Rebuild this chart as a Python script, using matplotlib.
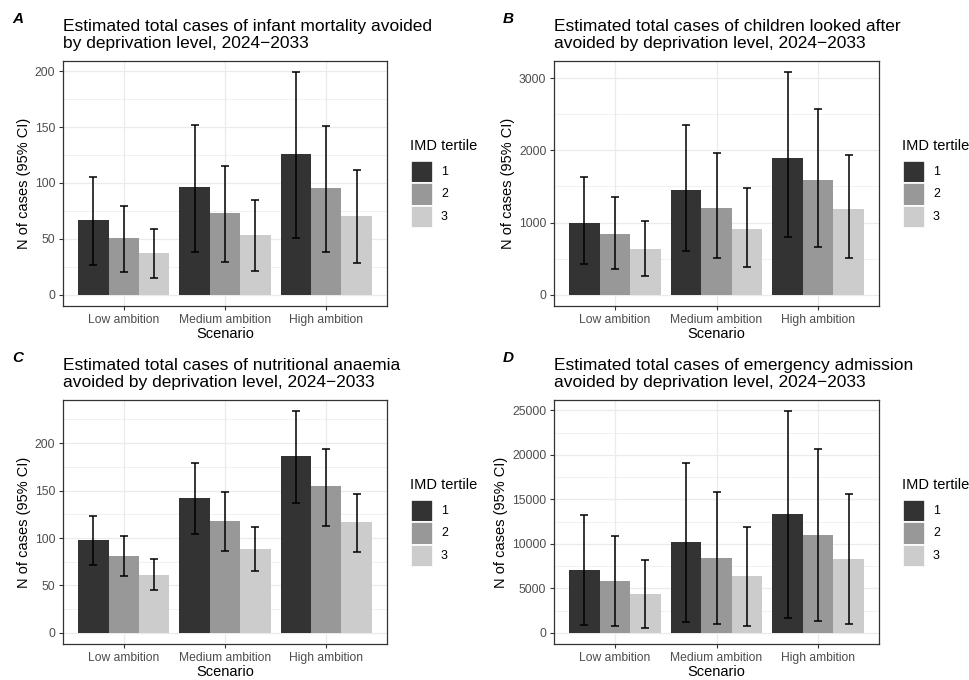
import numpy as np
import matplotlib.pyplot as plt
from matplotlib.patches import Rectangle
from matplotlib.ticker import MultipleLocator

plt.rcParams['font.family'] = ['Liberation Sans', 'DejaVu Sans']

scenarios = ['Low ambition', 'Medium ambition', 'High ambition']
tertiles = ['1', '2', '3']
fill_colours = ['#333333', '#989898', '#CCCCCC']

# wartości: [scenariusz][tercyl]
mortality = [[66.7, 50.7, 37.0], [96.3, 72.9, 53.9], [126.2, 95.7, 70.8]]
mortality_lo = [[26.7, 20.1, 15.1], [38.5, 29.3, 21.6], [50.7, 38.2, 28.1]]
mortality_hi = [[105.2, 79.7, 59.0], [152.0, 115.3, 85.0], [199.1, 150.8, 111.4]]

looked_after = [[1001, 836, 629], [1452, 1208, 914], [1897, 1585, 1190]]
looked_after_lo = [[427, 354, 266], [611, 515, 386], [804, 666, 505]]
looked_after_hi = [[1631, 1360, 1020], [2357, 1966, 1479], [3083, 2573, 1939]]

anaemia = [[98.3, 81.5, 61.3], [142.2, 118.1, 88.9], [186.0, 154.7, 116.7]]
anaemia_lo = [[72.1, 59.6, 44.9], [104.5, 86.4, 65.5], [136.6, 113.2, 85.4]]
anaemia_hi = [[123.7, 102.4, 77.4], [178.7, 148.1, 111.8], [233.8, 194.1, 146.0]]

emergency = [[7058, 5795, 4383], [10178, 8432, 6352], [13336, 11033, 8321]]
emergency_lo = [[892, 743, 557], [1226, 1040, 780], [1634, 1374, 1040]]
emergency_hi = [[13224, 10884, 8247], [19056, 15788, 11924], [24926, 20691, 15565]]

panels = [
    ('A', 'Estimated total cases of infant mortality avoided\nby deprivation level, 2024\u22122033',
     mortality, mortality_lo, mortality_hi, 50),
    ('B', 'Estimated total cases of children looked after\navoided by deprivation level, 2024\u22122033',
     looked_after, looked_after_lo, looked_after_hi, 1000),
    ('C', 'Estimated total cases of nutritional anaemia\navoided by deprivation level, 2024\u22122033',
     anaemia, anaemia_lo, anaemia_hi, 50),
    ('D', 'Estimated total cases of emergency admission\navoided by deprivation level, 2024\u22122033',
     emergency, emergency_lo, emergency_hi, 5000),
]

W, H = 969, 680
fig = plt.figure(figsize=(W / 100, H / 100), dpi=100)


def fx(px):
    return px / W


def fy(py):
    return 1 - py / H


# położenie paneli w pikselach: lewo, góra, prawo, dół
boxes = [(63, 61, 387, 306), (554, 61, 879, 306), (63, 400, 387, 644), (554, 400, 879, 644)]

for (letter, title, vals, lo, hi, step), (l, t, r, b) in zip(panels, boxes):
    ax = fig.add_axes([fx(l), fy(b), (r - l) / W, (b - t) / H])
    vals = np.array(vals)
    lo = np.array(lo)
    hi = np.array(hi)
    x = np.arange(len(scenarios))
    bw = 0.3
    for j in range(len(tertiles)):
        xs = x + (j - 1) * bw
        ax.bar(xs, vals[:, j], width=bw, color=fill_colours[j], zorder=2)
        ax.errorbar(xs, vals[:, j], yerr=[vals[:, j] - lo[:, j], hi[:, j] - vals[:, j]],
                    fmt='none', ecolor='black', elinewidth=1.1, capsize=2.8, capthick=1.1, zorder=3)

    top = hi.max()
    ax.set_xlim(-0.6, 2.6)
    ax.set_ylim(-0.05 * top, 1.05 * top)
    ax.set_xticks(x)
    ax.set_xticklabels(scenarios)
    ax.yaxis.set_major_locator(MultipleLocator(step))
    ax.yaxis.set_minor_locator(MultipleLocator(step / 2))
    ax.xaxis.set_minor_locator(plt.NullLocator())
    ax.grid(True, which='major', color='#EBEBEB', lw=0.9, zorder=0)
    ax.grid(True, which='minor', axis='y', color='#EBEBEB', lw=0.5, zorder=0)
    ax.set_axisbelow(True)
    for s in ax.spines.values():
        s.set_color('#333333')
        s.set_linewidth(0.9)
    ax.tick_params(which='major', length=3, width=0.8, color='#333333',
                   labelsize=8.7, labelcolor='#4D4D4D', pad=2.5)
    ax.tick_params(which='minor', length=0)
    ax.set_xlabel('Scenario', fontsize=10.5, labelpad=1)
    ax.set_ylabel('N of cases (95% CI)', fontsize=10.5, labelpad=3)
    ax.set_title(title, loc='left', fontsize=12.5, pad=9, linespacing=1.2)

    fig.text(fx(l - 51), fy(t - 38), letter, fontsize=11, fontweight='bold',
             fontstyle='italic', ha='left', va='baseline')

    # legenda rysowana ręcznie
    kx = r + 24
    fig.text(fx(kx - 1), fy(t + 89), 'IMD tertile', fontsize=10.5, ha='left', va='baseline')
    kh = 22.3
    for j, (lab, c) in enumerate(zip(tertiles, fill_colours)):
        ky = t + 100 + j * kh
        fig.add_artist(Rectangle((fx(kx), fy(ky + kh)), 21.5 / W, kh / H,
                                 facecolor=c, edgecolor='white', linewidth=1.2,
                                 transform=fig.transFigure))
        fig.text(fx(kx + 30), fy(ky + kh / 2), lab, fontsize=8.9, ha='left', va='center')

fig.savefig('out.png', dpi=100)
